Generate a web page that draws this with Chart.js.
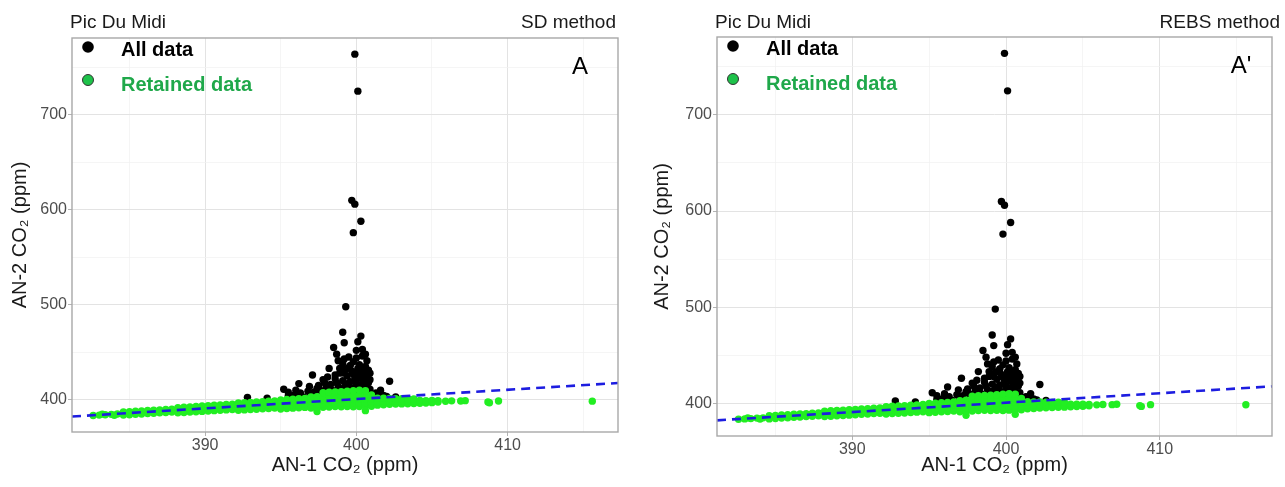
<!DOCTYPE html>
<html><head><meta charset="utf-8">
<script src="https://cdn.jsdelivr.net/npm/chart.js@4/dist/chart.umd.min.js"></script>
<style>
html,body{margin:0;padding:0;background:#fff;width:1285px;height:487px;overflow:hidden}
.panel{position:absolute;top:0;height:487px}
canvas{display:block}
</style></head><body>
<div class="panel" style="left:0;width:642px"><canvas id="c1" width="642" height="487"></canvas></div>
<div class="panel" style="left:642px;width:643px"><canvas id="c2" width="643" height="487"></canvas></div>
<script>
const FONT = "'Liberation Sans', Arial, Helvetica, sans-serif";

// axis ranges and tick labels
const xRange = [381.2, 417.3];
const yRange = [366, 781];
const xMajorTicks = [390, 400, 410];
const xMinorTicks = [385, 395, 405, 415];
const yMajorTicks = [400, 500, 600, 700];
const yMinorTicks = [450, 550, 650, 750];

// dashed regression line (AN-1, AN-2)
const fitLineX = [381.2, 417.3];
const fitLineY = [382.3, 417.6];

// retained data (AN-1 CO2, AN-2 CO2)
const retainedPoints = [
[382.6,383.4],[383.0,383.8],[383.2,384.8],[383.4,384.1],[383.8,384.6],[384.0,383.7],[384.2,384.9],
[384.6,383.8],[384.6,387.0],[385.0,384.2],[385.0,387.5],[385.4,384.6],[385.4,387.8],[385.8,385.0],[385.8,388.2],
[386.2,385.4],[386.2,388.6],[386.6,385.8],[386.6,389.0],[387.0,386.2],[387.0,389.3],[387.4,386.6],[387.4,389.8],
[387.8,387.0],[387.8,390.1],
[388.2,386.2],[388.2,389.0],[388.2,391.7],[388.6,386.5],[388.6,389.3],[388.6,392.2],[389.0,387.0],[389.0,389.7],[389.0,392.5],
[389.4,387.3],[389.4,390.1],[389.4,392.9],[389.8,387.7],[389.8,390.5],[389.8,393.4],[390.2,388.1],[390.2,390.9],[390.2,393.7],
[390.6,388.5],[390.6,391.3],[390.6,394.1],[391.0,388.9],[391.0,391.7],[391.0,394.5],[391.4,389.3],[391.4,392.1],[391.4,394.9],
[391.8,389.7],[391.8,392.5],[391.8,395.3],
[392.2,388.9],[392.2,392.5],[392.2,396.5],[392.6,389.3],[392.6,392.9],[392.6,396.9],[393.0,389.6],[393.0,393.2],[393.0,397.2],
[393.4,390.0],[393.4,393.6],[393.4,397.6],[393.8,390.4],[393.8,394.0],[393.8,398.0],[394.2,390.8],[394.2,394.4],[394.2,398.4],
[394.6,391.2],[394.6,394.8],[394.6,398.8],
[395.0,390.3],[395.0,393.6],[395.0,396.8],[395.0,399.8],[395.4,390.7],[395.4,394.0],[395.4,397.2],[395.4,400.2],
[395.8,391.1],[395.8,394.4],[395.8,397.6],[395.8,400.6],[396.2,391.5],[396.2,394.8],[396.2,398.0],[396.2,401.0],
[396.6,391.9],[396.6,395.2],[396.6,398.4],[396.6,401.4],
[397.0,391.3],[397.0,395.0],[397.0,398.8],[397.0,402.8],[397.4,387.5],[397.4,391.7],[397.4,395.4],[397.4,399.2],[397.4,403.2],
[397.8,392.0],[397.8,395.8],[397.8,399.6],[397.8,403.6],[397.8,407.5],[398.2,392.4],[398.2,396.1],[398.2,400.0],[398.2,404.0],[398.2,408.0],
[398.6,392.8],[398.6,396.5],[398.6,400.3],[398.6,404.3],[398.6,408.3],
[399.0,392.5],[399.0,396.5],[399.0,400.5],[399.0,404.5],[399.0,408.5],[399.4,392.8],[399.4,396.8],[399.4,400.8],[399.4,404.8],[399.4,409.0],
[399.8,392.6],[399.8,396.6],[399.8,400.6],[399.8,404.6],[399.8,409.5],[400.2,392.9],[400.2,396.9],[400.2,400.9],[400.2,405.0],[400.2,410.0],
[400.6,388.5],[400.6,393.0],[400.6,397.0],[400.6,401.0],[400.6,405.2],[400.6,409.5],[401.0,393.2],[401.0,397.2],[401.0,401.0],[401.0,405.0],
[401.4,394.3],[401.4,397.9],[401.4,401.6],[401.8,394.6],[401.8,398.1],[401.8,401.5],
[402.2,395.2],[402.2,398.4],[402.2,401.3],[402.6,395.4],[402.6,398.6],[402.6,401.2],[403.0,395.6],[403.0,398.5],[403.0,401.0],
[403.4,395.8],[403.4,398.7],[403.4,401.1],[403.8,396.0],[403.8,398.6],[403.8,400.8],
[404.2,396.3],[404.2,399.2],[404.6,396.6],[404.6,399.0],[405.0,396.9],[405.0,399.1],[405.4,397.5],[405.4,398.9],
[405.9,398.4],[406.3,398.8],[406.9,398.6],[407.2,399.0],[408.7,397.6],[408.8,396.8],[409.4,398.6],[415.6,398.5]
];

// data removed by the selection (drawn under the retained points)
const rejectedPoints = [
[399.9,764],[400.1,725],[399.7,610],[399.9,606],[400.3,588],[399.8,576],[399.3,498],[399.1,471],
[400.3,467],[400.1,461],[399.2,460],[398.5,455],[398.7,448],[400.0,452],[400.4,453],[398.8,441],
[399.1,438],[398.2,433],[397.1,426],[396.2,417],[395.2,411],[392.8,402.5],[394.1,401.5],[402.2,419.5],
[399.5,445],[400.4,446],[399.8,440],[400.2,437],[400.6,435],[399.3,432],[399.7,430],[400.1,428],
[400.5,430],[398.9,428],[399.4,425],[399.9,424],[400.3,423],[400.7,424],[398.6,422],[399.1,420],
[399.6,419],[400.0,418],[400.4,417],[400.8,418],[398.3,416],[398.8,414],[399.2,413],[399.7,412],
[400.2,411],[400.6,413],[398.0,413],[397.6,410],[397.2,408],[396.8,409],[396.3,407],[395.9,405],
[395.5,404],[397.9,418],[398.4,410],[400.9,411],[401.0,406],[399.0,409],[399.5,416],[400.0,415],
[400.5,408],[401.5,404],[402.0,403.5],[402.6,403],[401.8,404.5],[396.9,414],[397.4,412],[398.1,424],
[399.6,436],[400.7,441],[400.1,433],
[398.5,405],[398.9,406],[399.3,405],[399.7,406],[400.1,405],[400.5,406],[400.9,405],
[398.7,418],[399.3,417],[399.9,420],[400.5,420],[400.9,421],[398.6,426],[399.2,428],[399.8,427],
[400.4,426],[400.9,428],[398.9,433],[399.5,434],[400.3,432],[400.8,431],[399.2,443],[400.0,444],
[400.6,448],[397.8,421],[397.5,415],[397.0,404],[396.5,403],[398.2,406],[401.3,407],[401.6,410],
[396.0,410],[395.5,408]
];

const panelTitles = ['Pic Du Midi', 'Pic Du Midi'];
const methodTitles = ['SD method', 'REBS method'];
const panelTags = ['A', "A'"];
const legendLabels = ['All data', 'Retained data'];
const xTitle = 'AN-1 CO\u2082 (ppm)';
const yTitle = 'AN-2 CO\u2082 (ppm)';

const layouts = [
  {id:'c1', l:72, t:38, r:618, b:432, methodDx:-2, tagDx:-38},
  {id:'c2', l:75, t:37, r:630, b:436, methodDx:8, tagDx:-31}
];

function decor(i){
  const L = layouts[i];
  return {
    id:'decor'+i,
    afterDraw(chart){
      const {ctx, chartArea:a} = chart;
      ctx.save();
      ctx.strokeStyle = '#a8a8a8'; ctx.lineWidth = 1.4;
      ctx.strokeRect(a.left, a.top, a.right - a.left, a.bottom - a.top);
      ctx.fillStyle = '#1a1a1a';
      ctx.font = '19px ' + FONT;
      ctx.textBaseline = 'alphabetic';
      ctx.textAlign = 'left';
      ctx.fillText(panelTitles[i], a.left - 2, 28);
      ctx.textAlign = 'right';
      ctx.fillText(methodTitles[i], a.right + L.methodDx, 28);
      // tag
      ctx.fillStyle = '#000';
      ctx.font = '24px ' + FONT;
      ctx.textAlign = 'center'; ctx.textBaseline = 'middle';
      ctx.fillText(panelTags[i], a.right + L.tagDx, a.top + 29);
      // legend
      ctx.textAlign = 'left';
      ctx.font = 'bold 20px ' + FONT;
      ctx.beginPath(); ctx.arc(a.left + 16, a.top + 9, 5.8, 0, Math.PI*2);
      ctx.fillStyle = '#000'; ctx.fill();
      ctx.fillText(legendLabels[0], a.left + 49, a.top + 12);
      ctx.beginPath(); ctx.arc(a.left + 16, a.top + 42, 5.5, 0, Math.PI*2);
      ctx.fillStyle = '#1ec24a'; ctx.fill();
      ctx.strokeStyle = '#333'; ctx.lineWidth = 1; ctx.stroke();
      ctx.fillStyle = '#1fa84a';
      ctx.fillText(legendLabels[1], a.left + 49, a.top + 47);
      ctx.restore();
    }
  };
}

function makeChart(i){
  const L = layouts[i];
  const canvas = document.getElementById(L.id);
  const W = canvas.width, H = canvas.height;
  const isMajorX = v => xMajorTicks.includes(v);
  const isMajorY = v => yMajorTicks.includes(v);
  new Chart(canvas, {
    type:'scatter',
    data:{datasets:[
      {label:'fit', type:'line', data: fitLineX.map((x,k)=>({x, y:fitLineY[k]})),
       borderColor:'#1d1de0', borderWidth:2.6, borderDash:[9,6], pointRadius:0, fill:false, tension:0, order:0},
      {label:legendLabels[1], data: retainedPoints.map(p=>({x:p[0], y:p[1]})),
       backgroundColor:'#22ee22', borderWidth:0, pointRadius:3.7, order:1},
      {label:legendLabels[0], data: rejectedPoints.map(p=>({x:p[0], y:p[1]})),
       backgroundColor:'#000', borderWidth:0, pointRadius:3.7, order:2}
    ]},
    options:{
      responsive:false, animation:false, events:[],
      layout:{padding:{left:0, top:L.t, right:W - L.r, bottom:0}},
      plugins:{legend:{display:false}, tooltip:{enabled:false}, title:{display:false}},
      scales:{
        x:{type:'linear', min:xRange[0], max:xRange[1],
          afterBuildTicks: s => { s.ticks = xMajorTicks.concat(xMinorTicks).sort((a,b)=>a-b).map(v=>({value:v})); },
          afterFit: s => { s.height = H - L.b; s.paddingLeft = 0; s.paddingRight = 0; s.paddingTop = 0; s.paddingBottom = 0; },
          ticks:{callback: v => isMajorX(v) ? String(v) : '', font:{family:FONT, size:16}, color:'#4d4d4d', padding:0, maxRotation:0, autoSkip:false},
          grid:{color: c => c.tick && isMajorX(c.tick.value) ? '#e3e3e3' : '#f1f1f1',
                lineWidth: c => c.tick && isMajorX(c.tick.value) ? 1 : 0.7,
                tickColor: c => c.tick && isMajorX(c.tick.value) ? '#b3b3b3' : 'rgba(0,0,0,0)',
                tickLength:4, drawTicks:true},
          border:{display:false},
          title:{display:true, text:xTitle, font:{family:FONT, size:20}, color:'#1a1a1a', padding:{top:0, bottom:10}}
        },
        y:{type:'linear', min:yRange[0], max:yRange[1],
          afterBuildTicks: s => { s.ticks = yMajorTicks.concat(yMinorTicks).sort((a,b)=>a-b).map(v=>({value:v})); },
          afterFit: s => { s.width = L.l; s.paddingLeft = 0; s.paddingRight = 0; s.paddingTop = 0; s.paddingBottom = 0; },
          ticks:{callback: v => isMajorY(v) ? String(v) : '', font:{family:FONT, size:16}, color:'#4d4d4d', padding:1, autoSkip:false},
          grid:{color: c => c.tick && isMajorY(c.tick.value) ? '#e3e3e3' : '#f1f1f1',
                lineWidth: c => c.tick && isMajorY(c.tick.value) ? 1 : 0.7,
                tickColor: c => c.tick && isMajorY(c.tick.value) ? '#b3b3b3' : 'rgba(0,0,0,0)',
                tickLength:4, drawTicks:true},
          border:{display:false},
          title:{display:true, text:yTitle, font:{family:FONT, size:20}, color:'#1a1a1a', padding:{top:8, bottom:0}}
        }
      }
    },
    plugins:[decor(i)]
  });
}
makeChart(0);
makeChart(1);
</script>
</body></html>
